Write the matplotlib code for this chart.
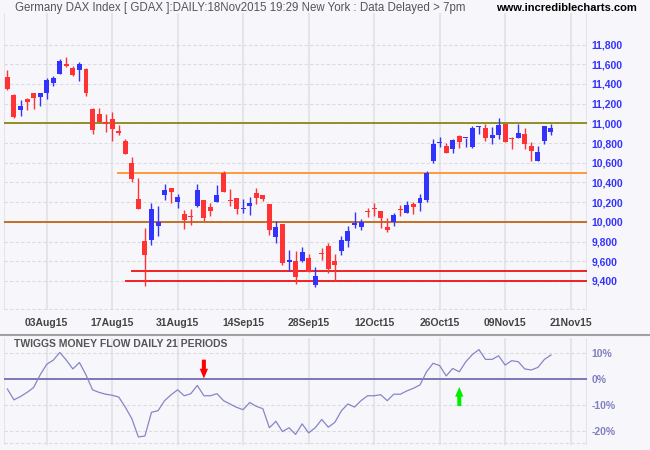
import numpy as np
import pandas as pd
import matplotlib
matplotlib.use("Agg")
import matplotlib.pyplot as plt
from matplotlib.lines import Line2D

plt.rcParams['font.family'] = ['Liberation Sans', 'DejaVu Sans']

# ---------------- data ----------------
start_date = "2015-07-24"
end_date = "2015-11-18"
dates = pd.bdate_range(start_date, end_date)

opens = [11471, 11286, 11131, 11249, 11309, 11272, 11303, 11413, 11504, 11602,
         11561, 11545, 11551, 11148, 11098, 11007, 11047, 10916, 10825, 10593,
         10230, 9807, 9820, 9962, 10274, 10341, 10204, 10079, 10059, 10157,
         10220, 10150, 10204, 10496, 10220, 10247, 10126, 10163, 10291, 10271,
         10180, 9841, 9978, 9588, 9602, 9598, 9632, 9360, 9676, 9757,
         9602, 9700, 9810, 9972, 9951, 10103, 10136, 10109, 9951, 10002,
         10130, 10093, 10180, 10194, 10224, 10614, 10798, 10765, 10738, 10869,
         10849, 10755, 10963, 10953, 10849, 10879, 10993, 10842, 10849, 10896,
         10765, 10617, 10819, 10909]
highs = [11541, 11296, 11235, 11259, 11309, 11312, 11457, 11481, 11652, 11672,
         11582, 11622, 11561, 11158, 11158, 11098, 11118, 10980, 10842, 10654,
         10442, 9938, 10187, 10160, 10382, 10341, 10281, 10119, 10130, 10382,
         10220, 10194, 10372, 10516, 10331, 10247, 10230, 10251, 10341, 10271,
         10180, 10005, 9978, 9716, 9703, 9746, 9669, 9541, 9733, 9787,
         9676, 9857, 9958, 10099, 10029, 10143, 10187, 10109, 10039, 10086,
         10170, 10210, 10200, 10281, 10513, 10845, 10866, 10805, 10839, 10886,
         10856, 10977, 10977, 10990, 10966, 11057, 10993, 10866, 10993, 10956,
         10815, 10765, 10977, 10990]
lows = [11343, 11055, 11071, 11131, 11141, 11178, 11252, 11383, 11504, 11571,
        11484, 11434, 11282, 10893, 11017, 10916, 10825, 10886, 10687, 10402,
        10133, 9346, 9760, 9861, 10224, 10193, 10143, 9931, 9972, 10150,
        10012, 10062, 10204, 10304, 10160, 10083, 10089, 10072, 10183, 10214,
        9871, 9790, 9565, 9498, 9370, 9592, 9488, 9337, 9609, 9477,
        9400, 9659, 9740, 9938, 9921, 10052, 10059, 9941, 9901, 9962,
        10062, 10093, 10083, 10113, 10204, 10597, 10761, 10694, 10698, 10748,
        10758, 10748, 10889, 10825, 10788, 10845, 10808, 10738, 10849, 10738,
        10617, 10617, 10788, 10879]
closes = [11353, 11061, 11178, 11212, 11262, 11309, 11440, 11460, 11632, 11582,
          11494, 11598, 11303, 10929, 11017, 10997, 10946, 10906, 10687, 10439,
          10133, 9659, 10130, 10002, 10321, 10304, 10257, 10022, 10052, 10321,
          10039, 10113, 10271, 10304, 10214, 10133, 10133, 10190, 10237, 10234,
          9921, 9948, 9578, 9615, 9437, 9693, 9488, 9451, 9669, 9521,
          9558, 9814, 9904, 9978, 9998, 10096, 10130, 10042, 9921, 10066,
          10120, 10170, 10153, 10240, 10493, 10795, 10805, 10694, 10832, 10808,
          10856, 10956, 10970, 10849, 10886, 10987, 10815, 10839, 10906, 10788,
          10718, 10714, 10977, 10956]

money_flow = [-3.8, -8.0, -6.7, -5.1, -3.2, 1.7, 5.8, 7.4, 10.4, 7.4,
              4.0, 6.5, 1.7, -4.1, -5.1, -5.8, -6.2, -6.9, -10.8, -15.3,
              -22.4, -22.0, -12.8, -12.2, -8.3, -6.0, -4.1, -6.4, -5.6, -2.4,
              -6.4, -6.4, -5.6, -8.3, -9.6, -10.9, -11.8, -9.0, -10.5, -11.4,
              -18.8, -16.3, -20.3, -18.8, -21.4, -17.3, -20.8, -18.8, -15.6, -18.6,
              -16.7, -12.2, -9.6, -10.8, -8.3, -6.4, -6.4, -6.0, -8.3, -5.8,
              -5.8, -4.5, -3.5, -2.2, 2.9, 6.2, 5.3, 1.3, 4.2, 2.9,
              6.8, 9.6, 11.5, 7.7, 7.7, 9.1, 5.5, 7.2, 6.8, 4.0,
              3.6, 4.6, 7.7, 9.4]

x_tick_dates = ["2015-08-03", "2015-08-17", "2015-08-31", "2015-09-14", "2015-09-28",
                "2015-10-12", "2015-10-26", "2015-11-09", "2015-11-23"]
x_tick_labels = ["03Aug15", "17Aug15", "31Aug15", "14Sep15", "28Sep15",
                 "12Oct15", "26Oct15", "09Nov15", "21Nov15"]
price_ticks = [9400, 9600, 9800, 10000, 10200, 10400, 10600, 10800, 11000,
               11200, 11400, 11600, 11800]
mf_ticks = [10, 0, -10, -20]
mf_tick_labels = ["10%", "0%", "-10%", "-20%"]

level_prices = [11000, 10000, 10500, 9500, 9400]
level_start = [-0.5, -0.5, 16.7, 18.9, 18.0]
level_colors = ['#808000', '#b85c00', '#ff8c1a', '#ee0000', '#ee0000']

sell_signal_date = "2015-09-04"
buy_signal_date = "2015-10-29"

# ---------------- figure ----------------
W, H = 650, 450
BG = '#f7f7fb'
fig = plt.figure(figsize=(6.5, 4.5), dpi=100, facecolor=BG)

def fx(px):
    return px / W

def fy(py):
    return 1 - py / H

left_px, right_px = 4, 587
ax1 = fig.add_axes([fx(left_px), fy(310), fx(right_px - left_px), (310 - 13) / H])
ax2 = fig.add_axes([fx(left_px), fy(445), fx(right_px - left_px), (445 - 338) / H])

n = len(dates)
xi = np.arange(n)
o = np.array(opens, float); h = np.array(highs, float)
l = np.array(lows, float); c = np.array(closes, float)
up = c >= o
RED, BLUE = '#ff3333', '#3333ff'
cols = np.where(up, BLUE, RED)

tick_pos = [int(np.busday_count(start_date, d)) for d in x_tick_dates]

for ax in (ax1, ax2):
    ax.set_facecolor(BG)
    for s in ax.spines.values():
        s.set_visible(False)
    ax.set_xlim(-0.52, 88.5)
    for tp in tick_pos:
        ax.axvline(tp, color='#e4e4ea', lw=1.5, zorder=0)
    ax.axvline(-0.52, color='#e4e4ea', lw=1.5, zorder=0)
    ax.axvline(88.5, color='#e4e4ea', lw=1.5, zorder=0)
    ax.tick_params(length=0)
    ax.set_xticks([])

# price panel
ax1.set_ylim(9105, 12120)
for p in price_ticks:
    ax1.axhline(p, color='#dcdce0', lw=0.8, ls=(0, (3, 2)), zorder=0)
ax1.axhline(9115, color='#dcdce0', lw=0.8, ls=(0, (3, 2)), zorder=0)

for lp, ls_, lc in zip(level_prices, level_start, level_colors):
    ax1.hlines(lp, ls_, 88.5, color=lc, lw=1.2, zorder=1)

ax1.vlines(xi, l, h, colors=cols, lw=1.0, zorder=2)
body_b = np.minimum(o, c)
body_h = np.maximum(np.abs(c - o), 12)
ax1.bar(xi, body_h, bottom=body_b, width=0.76, color=cols, lw=0, zorder=3)

ax1.yaxis.tick_right()
ax1.set_yticks(price_ticks)
ax1.set_yticklabels([f"{p:,}" for p in price_ticks], color='#3333ff',
                    fontsize=7.5, fontweight='bold')
ax1.tick_params(axis='y', pad=3.5)

for tp, tl in zip(tick_pos, x_tick_labels):
    ax1.text(tp, -0.043, tl, transform=ax1.get_xaxis_transform(), ha='center',
             va='center', fontsize=7.5, fontweight='bold', color='#444444', clip_on=False)

# indicator panel
ax2.set_ylim(-25.5, 16.0)
for t in [10, -10, -20]:
    ax2.axhline(t, color='#dcdce0', lw=0.8, ls=(0, (3, 2)), zorder=0)
ax2.axhline(-24.6, color='#dcdce0', lw=0.8, ls=(0, (3, 2)), zorder=0)
ax2.axhline(0, color='#6e6eb0', lw=1.3, zorder=1)
ax2.plot(xi, money_flow, color='#8585c8', lw=0.9, zorder=2)
ax2.yaxis.tick_right()
ax2.set_yticks(mf_ticks)
ax2.set_yticklabels(mf_tick_labels, color='#8080c0', fontsize=7.5, fontweight='bold')
ax2.tick_params(axis='y', pad=3.5)
ax2.text(0.017, 0.99, "TWIGGS MONEY FLOW DAILY 21 PERIODS", transform=ax2.transAxes,
         ha='left', va='top', fontsize=7.5, fontweight='bold', color='#555555', zorder=10)

sell_i = int(np.busday_count(start_date, sell_signal_date))
buy_i = int(np.busday_count(start_date, buy_signal_date))
ax2.annotate('', xy=(sell_i, 0.3), xytext=(sell_i, 7.6),
             arrowprops=dict(arrowstyle='simple,head_length=7,head_width=6,tail_width=2.9',
                             mutation_scale=1, color='#ff0000', lw=0,
                             shrinkA=0, shrinkB=0), zorder=4)
ax2.annotate('', xy=(buy_i, -3.0), xytext=(buy_i, -10.4),
             arrowprops=dict(arrowstyle='simple,head_length=7,head_width=6,tail_width=2.9',
                             mutation_scale=1, color='#00ee00', lw=0,
                             shrinkA=0, shrinkB=0), zorder=4)

# separator & titles
fig.add_artist(Line2D([0, 1], [fy(335), fy(335)], transform=fig.transFigure,
                      color='#a0a0a0', lw=1.5))
fig.text(fx(15), fy(8), "Germany DAX Index [ GDAX ]:DAILY:18Nov2015 19:29 New York : Data Delayed > 7pm",
         ha='left', va='center', fontsize=8.3, color='#555555')
fig.text(fx(637), fy(8), "www.incrediblecharts.com", ha='right', va='center',
         fontsize=8, fontweight='bold', color='#000000')

fig.savefig("out.png", dpi=100, facecolor=BG)
